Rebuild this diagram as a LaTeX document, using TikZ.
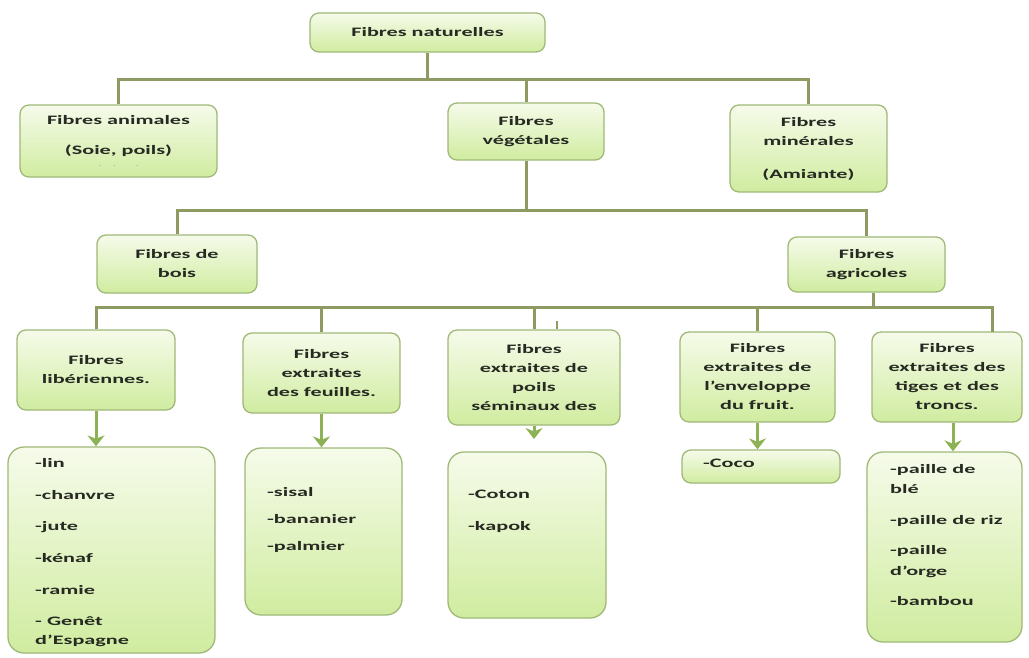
\documentclass[tikz,border=0pt]{standalone}
\usepackage{fontspec}
\setmainfont{Carlito}[FakeStretch=1.72]
\usetikzlibrary{arrows.meta}

\definecolor{boxtop}{RGB}{246,251,234}
\definecolor{boxbot}{RGB}{208,236,160}
\definecolor{boxline}{RGB}{160,184,120}
\definecolor{treeline}{RGB}{141,155,98}
\definecolor{arrowgreen}{RGB}{140,178,84}
\definecolor{txt}{RGB}{38,42,34}
\newcommand\boxfont{\fontsize{12.9}{19}\selectfont\bfseries}

\begin{document}
\begin{tikzpicture}[x=1pt, y=-1pt,
  box/.style={draw=boxline, line width=1.3pt, rounded corners=9pt, top color=boxtop, bottom color=boxbot, align=center, font=\boxfont, text=txt, inner sep=2pt},
  leaf/.style={box, rounded corners=16pt},
  items/.style={anchor=north west, align=left, font=\boxfont, text=txt, inner sep=0pt},
  tree/.style={draw=treeline, line width=3pt},
  arr/.style={draw=arrowgreen, line width=3pt, -{Stealth[length=11pt,width=17pt,inset=3.5pt]}}]
\useasboundingbox (0,0) rectangle (1029,657);

% level 1 and 2
\node[box, minimum width=235pt, minimum height=39pt] (top) at (427.5,32.5) {Fibres naturelles};
\node[box, minimum width=197pt, minimum height=72pt] (anim) at (118.5,141) {Fibres animales\\[11pt](Soie, poils)\\[-7pt]{\fontsize{6}{6}\selectfont\color{txt!40}.\hspace{12pt}.\hspace{20pt}.}};
\node[box, minimum width=156pt, minimum height=57pt] (veg) at (526,131.5) {Fibres\\végétales};
\node[box, minimum width=157pt, minimum height=87pt] (min) at (808.5,148.5) {Fibres\\minérales\\[14pt](Amiante)};

% level 3
\node[box, minimum width=160pt, minimum height=58pt] (bois) at (177,264) {Fibres de\\bois};
\node[box, minimum width=157pt, minimum height=55pt] (agr) at (866.5,264.5) {Fibres\\agricoles};

% level 4
\node[box, minimum width=158pt, minimum height=80pt] (c1) at (96,370) {Fibres\\libériennes.};
\node[box, minimum width=157pt, minimum height=80pt] (c2) at (321.5,373) {Fibres\\extraites\\des feuilles.};
\node[box, minimum width=172pt, minimum height=95pt] (c3) at (534,377.5) {Fibres\\extraites de\\poils\\séminaux des};
\node[box, minimum width=155pt, minimum height=90pt] (c4) at (757.5,377) {Fibres\\extraites de\\l’enveloppe\\du fruit.};
\node[box, minimum width=150pt, minimum height=90pt] (c5) at (947,377) {Fibres\\extraites des\\tiges et des\\troncs.};

% leaves
\node[leaf, minimum width=207pt, minimum height=206pt] (l1) at (111.5,550) {};
\node[leaf, minimum width=157pt, minimum height=167pt] (l2) at (323.5,531.5) {};
\node[leaf, minimum width=158pt, minimum height=166pt] (l3) at (527,535) {};
\node[box, minimum width=158pt, minimum height=33pt] (l4) at (761,466.5) {};
\node[leaf, minimum width=155pt, minimum height=190pt] (l5) at (944.5,547) {};

\node[items] (t1) at (35,458) {-lin\\[13pt]-chanvre\\[12pt]-jute\\[13pt]-kénaf\\[13pt]-ramie\\[12pt]- Genêt\\d’Espagne};
\node[items] (t2) at (267,487) {-sisal\\[8pt]-bananier\\[8pt]-palmier};
\node[items] (t3) at (468,490) {-Coton\\[13pt]-kapok};
\node[items] (t4) at (703,459) {-Coco};
\node[items] (t5) at (890,464) {-paille de\\[1pt]blé\\[12pt]-paille de riz\\[11pt]-paille\\[2pt]d’orge\\[11pt]-bambou};

% connectors
\coordinate (bus1) at (427.5,79);
\coordinate (bus2) at (526,210);
\coordinate (bus3) at (873,307);
\coordinate (c5tap) at (992,332);
\coordinate (tick) at (557,321);
\coordinate (c3tip) at (534,439);

\draw[tree] (top.south) -- (bus1);
\draw[tree] (bus1) -| (anim);
\draw[tree] (bus1) -| (veg);
\draw[tree] (bus1) -| (min);

\draw[tree] (veg.south) -- (bus2);
\draw[tree] (bus2) -| (bois);
\draw[tree] (bus2) -| (agr);

\draw[tree] (agr.south -| bus3) -- (bus3);
\draw[tree] (bus3) -| (c1);
\draw[tree] (bus3) -| (c2);
\draw[tree] (bus3) -| (c3);
\draw[tree] (bus3) -| (c4);
\draw[tree] (bus3) -| (c5tap);
\draw[tree, line width=2pt] (tick) -- (tick |- c3.north);

\draw[arr] (c1.south) -- (c1.south |- l1.north);
\draw[arr] (c2.south) -- (c2.south |- l2.north);
\draw[arr] (c3.south) -- (c3tip);
\draw[arr] (c4.south) -- (c4.south |- l4.north);
\draw[arr] ([xshift=6pt]c5.south) -- ([xshift=6pt]c5.south |- l5.north);
\end{tikzpicture}
\end{document}
